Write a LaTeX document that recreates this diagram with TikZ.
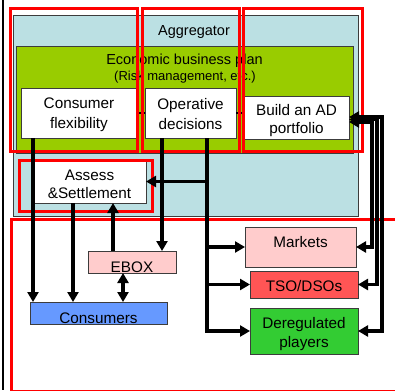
\documentclass[tikz,border=0pt]{standalone}
\usepackage{fontspec}
\setmainfont{Liberation Sans}
\usetikzlibrary{arrows.meta}

\definecolor{aggblue}{RGB}{187,224,227}
\definecolor{plangreen}{RGB}{153,204,0}
\definecolor{softpink}{RGB}{255,204,204}
\definecolor{tsored}{RGB}{255,85,85}
\definecolor{dergreen}{RGB}{51,204,51}
\definecolor{consblue}{RGB}{102,153,255}
\definecolor{edge}{RGB}{60,60,60}

\tikzset{
  box/.style={draw=edge, line width=0.8pt, inner sep=0pt, outer sep=0pt},
  boxtext/.style={inner sep=0pt, font=\fontsize{15.3}{20}\selectfont, align=center},
  hilite/.style={draw=red, line width=3pt},
  flow/.style={line width=3.6pt, line join=miter},
  arr/.style={flow, -{Triangle[length=10pt,width=11pt]}},
  darr/.style={flow, {Triangle[length=10pt,width=11pt]}-{Triangle[length=10pt,width=11pt]}},
}

\begin{document}
\begin{tikzpicture}[x=1pt, y=-1pt]
\useasboundingbox (0,0) rectangle (395,390);
\fill[white] (0,0) rectangle (395,390);

% outer frame line on the left
\draw[line width=2pt] (3,0) -- (3,390);

% aggregator and its business plan
\node[box, fill=aggblue, minimum width=345pt, minimum height=201pt] (agg) at (185.5,115.5) {};
\node[inner sep=0pt, font=\fontsize{14.5}{17}\selectfont] (aggt) at (194,32) {Aggregator};
\node[box, fill=plangreen, minimum width=337pt, minimum height=107pt] (plan) at (184.5,99.5) {};
\node[inner sep=0pt, font=\fontsize{14.5}{17}\selectfont] (plant) at (184.5,61) {Economic business plan};
\node[inner sep=0pt, font=\fontsize{13}{16}\selectfont] (risk) at (185,77) {(Risk management, etc.)};

% inner activity boxes
\node[box, fill=white, minimum width=116pt, minimum height=50pt] (cf) at (79,113) {};
\node[boxtext] (cft) at (79,114.5) {Consumer\\flexibility};
\node[box, fill=white, minimum width=91pt, minimum height=50pt] (od) at (190.5,113) {};
\node[boxtext] (odt) at (190.5,114.5) {Operative\\decisions};
\node[box, fill=white, minimum width=105pt, minimum height=43pt] (ad) at (296.5,117.5) {};
\node[boxtext, font=\fontsize{15.3}{18}\selectfont] (adt) at (296.5,121) {Build an AD\\portfolio};
\node[box, fill=white, minimum width=113pt, minimum height=43pt] (as) at (89.5,181.5) {};
\node[boxtext, font=\fontsize{15.3}{18}\selectfont] (ast) at (89.5,184) {Assess\\\&Settlement};

% links between the activity boxes
\draw[line width=2pt] (cf.east) -- (od.west);
\draw[line width=2pt] (od.east) -- (od.east -| ad.west);

% outside actors
\node[box, fill=softpink, minimum width=88pt, minimum height=22pt] (ebox) at (132,262) {};
\node[boxtext] (eboxt) at (132,267) {EBOX};
\node[box, fill=consblue, minimum width=137pt, minimum height=22pt] (cons) at (98.5,313) {};
\node[boxtext] (const) at (98.5,318) {Consumers};
\node[box, fill=softpink, minimum width=111pt, minimum height=40pt] (mk) at (300.5,247) {};
\node[boxtext] (mkt) at (300.5,242) {Markets};
\node[box, fill=tsored, minimum width=108pt, minimum height=27pt] (tso) at (304,284.5) {};
\node[boxtext] (tsot) at (304,286) {TSO/DSOs};
\node[box, fill=dergreen, minimum width=108pt, minimum height=46pt] (dr) at (304,331) {};
\node[boxtext, font=\fontsize{15.3}{19}\selectfont] (drt) at (304,334.5) {Deregulated\\players};

% red outlines
\draw[hilite] (10.5,8.5) rectangle (137.5,151.5);
\draw[hilite] (142.5,8.5) rectangle (239.5,151.5);
\draw[hilite] (243.5,8.5) rectangle (362.5,151.5);
\draw[hilite] (19.5,160.5) rectangle (152.5,211);
\draw[hilite] (11.5,219.5) rectangle (410,391);

% connector columns
\coordinate (cA) at (33,0);
\coordinate (cB) at (73,0);
\coordinate (cC) at (113,0);
\coordinate (cD) at (123,0);
\coordinate (cE) at (162,0);
\coordinate (bus) at (207,0);
\coordinate (r1) at (372,122);
\coordinate (r2) at (377,119.5);
\coordinate (r3) at (382,117);

% flows
\draw[arr] (cf.south -| cA) -- (cons.north -| cA);
\draw[arr] (as.south -| cB) -- (cons.north -| cB);
\draw[arr] (ebox.north -| cC) -- (as.south -| cC);
\draw[darr] (ebox.south -| cD) -- (cons.north -| cD);
\draw[arr] (od.south -| cE) -- (ebox.north -| cE);
\draw[arr] (od.south -| bus) |- (dr.west);
\draw[arr] (bus |- as.east) -- (as.east);
\draw[arr] (bus |- mk.west) -- (mk.west);
\draw[arr] (bus |- tso.west) -- (tso.west);
\draw[darr] (mk.east) -| (r1) -- (r1 -| ad.east);
\draw[darr] (tso.east) -| (r2) -- (r2 -| ad.east);
\draw[darr] (dr.east) -| (r3) -- (r3 -| ad.east);
\end{tikzpicture}
\end{document}
